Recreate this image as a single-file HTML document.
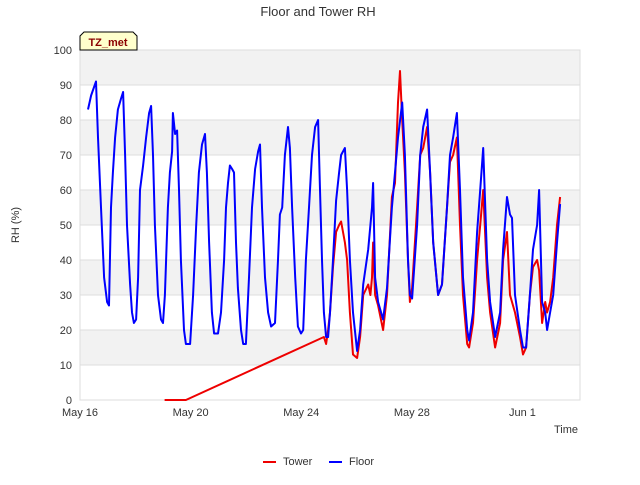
<!DOCTYPE html>
<html><head><meta charset="utf-8"><style>
body{margin:0;background:#fff;font-family:"Liberation Sans",sans-serif}
</style></head><body>
<svg id="chart" width="640" height="480" xmlns="http://www.w3.org/2000/svg" font-family="Liberation Sans, sans-serif">
<text x="318" y="16" text-anchor="middle" font-size="13" fill="#333">Floor and Tower RH</text>
<g id="grid"></g>
<g id="axes"></g>
<g id="series"></g>
<text transform="translate(19,225) rotate(-90)" text-anchor="middle" font-size="11" fill="#333">RH (%)</text>
<text x="578" y="433" text-anchor="end" font-size="11" fill="#333">Time</text>
<g>
<path d="M80,50 L80,36 L84,32 L133,32 L137,36 L137,50 Z" fill="#ffffcc" stroke="#000" stroke-width="1"/>
<text x="108" y="46" text-anchor="middle" font-size="11" font-weight="bold" fill="#8b0000">TZ_met</text>
</g>
<g>
<g><line x1="263" y1="462" x2="276" y2="462" stroke="#e00" stroke-width="2"/><text x="283" y="465" font-size="11" fill="#333">Tower</text></g>
<g><line x1="329" y1="462" x2="342" y2="462" stroke="#00f" stroke-width="2"/><text x="349" y="465" font-size="11" fill="#333">Floor</text></g>
</g>
</svg>
<script>
const yTicks=[0,10,20,30,40,50,60,70,80,90,100];
const xTickDays=[0,4,8,12,16];
const xTickLabels=["May 16","May 20","May 24","May 28","Jun 1"];
const floorDays=[0.29,0.40,0.58,0.65,0.76,0.87,0.98,1.05,1.12,1.19,1.27,1.37,1.48,1.56,1.63,1.70,1.81,1.88,1.95,2.03,2.10,2.17,2.28,2.39,2.50,2.57,2.64,2.71,2.82,2.93,3.00,3.07,3.18,3.25,3.33,3.36,3.44,3.51,3.58,3.65,3.76,3.83,3.98,4.09,4.20,4.30,4.41,4.52,4.59,4.67,4.77,4.85,4.99,5.10,5.21,5.28,5.35,5.42,5.50,5.57,5.64,5.71,5.82,5.90,6.00,6.11,6.22,6.33,6.44,6.51,6.58,6.69,6.80,6.91,7.05,7.16,7.23,7.31,7.41,7.52,7.59,7.67,7.78,7.88,7.99,8.07,8.17,8.28,8.39,8.50,8.61,8.68,8.75,8.82,8.90,8.97,9.04,9.15,9.26,9.37,9.44,9.58,9.66,9.76,9.87,10.02,10.13,10.24,10.42,10.56,10.60,10.67,10.78,10.96,11.10,11.28,11.39,11.50,11.65,11.75,11.86,11.93,12.01,12.19,12.30,12.41,12.55,12.66,12.77,12.95,13.09,13.27,13.38,13.49,13.63,13.74,13.85,14.00,14.07,14.21,14.36,14.47,14.58,14.72,14.83,15.01,15.19,15.30,15.44,15.55,15.62,15.73,15.91,16.02,16.13,16.27,16.38,16.53,16.60,16.71,16.82,16.89,17.00,17.11,17.25,17.36];
const floorValues=[83,87,91,75,55,35,28,27,55,65,75,83,86,88,70,50,33,25,22,23,35,60,67,75,82,84,70,50,30,23,22,30,55,65,71,82,76,77,60,40,20,16,16,30,50,65,73,76,65,45,25,19,19,25,40,55,62,67,66,65,45,32,20,16,16,35,55,66,71,73,55,35,25,21,22,40,53,55,70,78,72,55,35,21,19,20,40,55,70,78,80,60,40,25,18,18,25,40,57,65,70,72,60,40,25,14,20,33,43,55,62,35,28,23,32,55,65,75,85,70,40,30,29,50,70,78,83,65,45,30,33,55,70,75,82,60,35,20,17,25,48,60,72,40,28,18,25,43,58,53,52,30,20,15,15,30,43,50,60,28,25,20,25,30,45,56];
const towerDays=[3.06,3.83,8.82,8.90,8.97,9.04,9.15,9.26,9.37,9.44,9.58,9.66,9.76,9.87,10.02,10.13,10.24,10.42,10.50,10.56,10.60,10.67,10.78,10.96,11.10,11.28,11.39,11.50,11.57,11.65,11.75,11.86,11.93,12.01,12.19,12.30,12.41,12.55,12.66,12.77,12.95,13.09,13.27,13.38,13.49,13.63,13.74,13.85,14.00,14.07,14.21,14.36,14.47,14.58,14.72,14.83,15.01,15.19,15.30,15.44,15.55,15.62,15.73,15.91,16.02,16.13,16.27,16.38,16.53,16.60,16.71,16.82,16.89,17.00,17.11,17.25,17.36];
const towerValues=[0,0,18,16,20,25,38,48,50,51,45,40,25,13,12,18,30,33,30,35,45,30,27,20,30,58,62,85,94,80,65,40,28,32,55,70,72,78,65,45,30,33,55,68,70,75,50,30,16,15,22,40,50,60,35,25,15,22,40,48,30,28,25,18,13,15,30,38,40,37,22,28,25,28,35,50,58];

const L=80,R=580,T=50,B=400,DMAX=18.08;
const xs=d=>L+d*(R-L)/DMAX, ys=v=>B-v*(B-T)/100;
const NS="http://www.w3.org/2000/svg";
function mk(tag,attrs,parent){const e=document.createElementNS(NS,tag);for(const k in attrs)e.setAttribute(k,attrs[k]);parent.appendChild(e);return e;}
const grid=document.getElementById('grid'),axes=document.getElementById('axes'),ser=document.getElementById('series');
for(let i=0;i<yTicks.length-1;i++){
  if(i%2===1){const r=mk('rect',{x:L,y:ys(yTicks[i+1]),width:R-L,height:ys(yTicks[i])-ys(yTicks[i+1]),fill:'#f2f2f2'},grid);
  
  }
}
yTicks.forEach(v=>{
  const l=mk('line',{x1:L,x2:R,y1:ys(v),y2:ys(v),stroke:'#ddd','stroke-width':1},grid);
  
  
  const t=mk('text',{x:L-8,y:ys(v)+4,'text-anchor':'end','font-size':11,fill:'#333'},axes);t.textContent=v;
  
  
});
const fr=mk('rect',{x:L,y:T,width:R-L,height:B-T,fill:'none',stroke:'#ddd'},grid);


xTickDays.forEach((d,i)=>{
  const t=mk('text',{x:xs(d),y:416,'text-anchor':'middle','font-size':11,fill:'#333'},axes);t.textContent=xTickLabels[i];
  
  
});
function line(days,vals,color,name){
  const p=mk('polyline',{points:days.map((d,i)=>xs(d).toFixed(1)+','+ys(vals[i]).toFixed(1)).join(' '),fill:'none',stroke:color,'stroke-width':2,'stroke-linejoin':'round'},ser);
  
  
}
line(towerDays,towerValues,'#e00','tower-line');
line(floorDays,floorValues,'#00f','floor-line');
</script>
</body></html>
